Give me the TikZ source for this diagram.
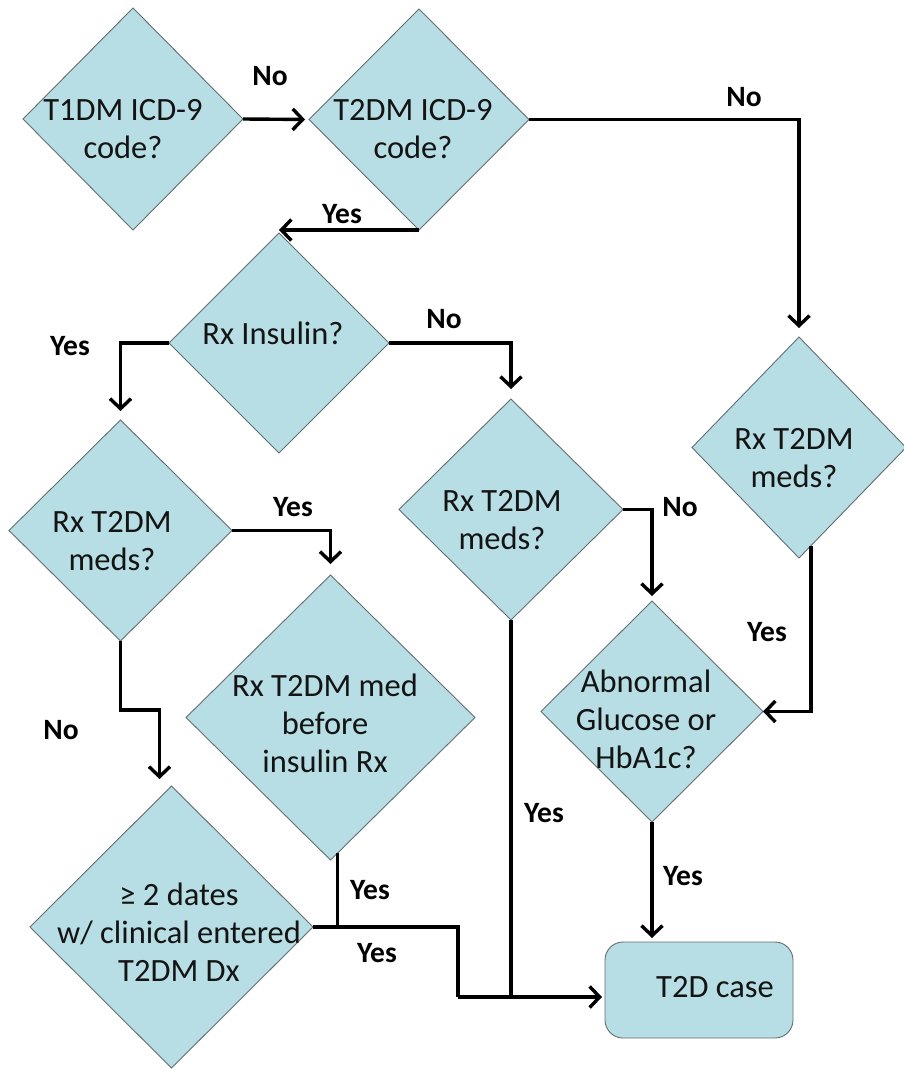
\documentclass[tikz,border=0pt]{standalone}
\usepackage{fontspec}
\setmainfont{Carlito}
\usetikzlibrary{shapes.geometric,arrows.meta,calc}
\definecolor{boxfill}{RGB}{183,222,228}
\definecolor{boxline}{RGB}{100,110,112}
\definecolor{txtcol}{RGB}{20,20,20}
\begin{document}
\begin{tikzpicture}[x=1pt,y=-1pt,
  dia/.style={diamond, draw=boxline, fill=boxfill, line width=0.9pt, inner sep=0pt, outer sep=0pt},
  casebox/.style={rectangle, rounded corners=18pt, draw=boxline, fill=boxfill, line width=0.9pt, inner sep=0pt, outer sep=0pt},
  txt/.style={align=center, font=\fontsize{32.5}{38}\selectfont, text=txtcol, inner sep=0pt},
  lbl/.style={font=\bfseries\fontsize{29.5}{34}\selectfont, inner sep=0pt},
  conn/.style={line width=3.4pt, -{Straight Barb[length=10pt,width=21pt]}},
  wire/.style={line width=3.4pt}]
\useasboundingbox (0,0) rectangle (903,1070);

% decision diamonds
\node[dia, minimum width=220pt, minimum height=222pt] (D1) at (133,119) {};
\node[dia, minimum width=220pt, minimum height=221pt] (D2) at (419,119.5) {};
\node[dia, minimum width=220pt, minimum height=220pt] (D3) at (279,343) {};
\node[dia, minimum width=223pt, minimum height=221pt] (D4) at (120.5,530.5) {};
\node[dia, minimum width=224pt, minimum height=221pt] (D5) at (511,509.5) {};
\node[dia, minimum width=214pt, minimum height=221pt] (D6) at (799,447.5) {};
\node[dia, minimum width=289pt, minimum height=285pt] (D7) at (330.5,717.5) {};
\node[dia, minimum width=222pt, minimum height=221pt] (D8) at (652,711.5) {};
\node[dia, minimum width=283pt, minimum height=282pt] (D9) at (171.5,927) {};
\node[casebox, minimum width=188pt, minimum height=96pt] (T2D) at (699,990) {};

% texts
\node[txt] (D1t) at (123,129) {T1DM ICD-9\\code?};
\node[txt] (D2t) at (413,129) {T2DM ICD-9\\code?};
\node[txt] (D3t) at (273,333) {Rx Insulin?};
\node[txt] (D4t) at (112,541) {Rx T2DM\\meds?};
\node[txt] (D5t) at (502,520) {Rx T2DM\\meds?};
\node[txt] (D6t) at (794,458) {Rx T2DM\\meds?};
\node[txt] (D7t) at (325,723) {Rx T2DM med\\before\\insulin Rx};
\node[txt] (D8t) at (646,719) {Abnormal\\Glucose or\\HbA1c?};
\node[txt] (D9t) at (179,932) {≥ 2 dates\\w/ clinical entered\\T2DM Dx};
\node[txt] (T2Dt) at (715,987) {T2D case};

% helper points
\coordinate (D6s) at (D6.-83);
\coordinate (D7s) at (D7.-87);
\coordinate (J) at (458,997);

% connectors
\draw[conn, shorten >=4pt] (D1.east) -- (D2.west);
\draw[conn, shorten >=9pt] (D2.east) -| (D6.north);
\draw[conn] (D2.south) -- (D2.south -| D3.north);
\draw[conn, shorten >=9pt] (D3.west) -| (D4.north);
\draw[conn, shorten >=10pt] (D3.east) -| (D5.north);
\draw[conn, shorten >=11pt] (D4.east) -| (D7.north);
\draw[conn, shorten >=5pt] (D5.east) -| (D8.north);
\draw[conn] (D6s) |- (D8.east);
\draw[conn, shorten >=4pt] (D8.south) -- (D8.south |- T2D.north);
\draw[conn, shorten >=7pt] (D4.south) -- ++(0,69) -| ([xshift=-12pt]D9.north);
\draw[wire] (D9.east) -| (J);
\draw[conn, shorten >=3pt] (J) -- (J -| T2D.west);
\draw[wire] (D7s) -- (D7s |- D9.east);
\draw[wire] (D5.south) -- (D5.south |- J);

% branch labels
\node[lbl] (L1) at (270,76) {No};
\node[lbl] (L2) at (744,97) {No};
\node[lbl] (L3) at (342,214) {Yes};
\node[lbl] (L4) at (70,346) {Yes};
\node[lbl] (L5) at (444,319) {No};
\node[lbl] (L6) at (293,507) {Yes};
\node[lbl] (L7) at (680,507) {No};
\node[lbl] (L8) at (767,632) {Yes};
\node[lbl] (L9) at (61,730) {No};
\node[lbl] (L10) at (370,890) {Yes};
\node[lbl] (L11) at (377,953) {Yes};
\node[lbl] (L12) at (544,813) {Yes};
\node[lbl] (L13) at (683,876) {Yes};
\end{tikzpicture}
\end{document}
